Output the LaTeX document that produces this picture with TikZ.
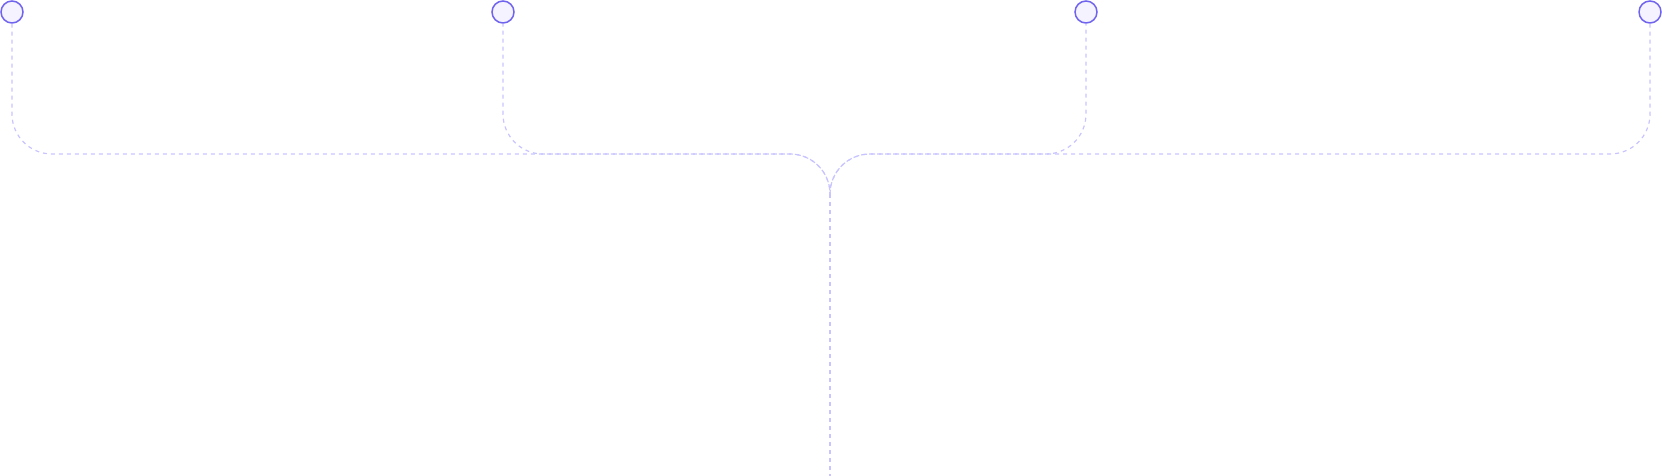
\documentclass[tikz,border=0pt]{standalone}
\usepackage{tikz}
\usetikzlibrary{positioning}
\definecolor{pinring}{RGB}{112,100,238}
\definecolor{pinfill}{RGB}{244,243,255}
\definecolor{wire}{RGB}{200,196,255}

\begin{document}
\begin{tikzpicture}[x=1pt,y=-1pt,
                    pin/.style={circle,draw=pinring,fill=pinfill,line width=1.5pt,
                                minimum size=22pt,inner sep=0pt},
                    wire/.style={draw=wire,line width=1.2pt,dash pattern=on 4pt off 4pt,
                                 rounded corners=40pt}]
  \useasboundingbox (0,0) rectangle (1662,476);

  % --- inputs along the top ------------------------------------------------
  \node[pin] (pinA) at (12,12) {};
  \node[pin] (pinB) at (503,12) {};
  \node[pin] (pinC) at (1086,12) {};
  \node[pin] (pinD) at (1650,12) {};

  % --- merge point and trunk -----------------------------------------------
  \coordinate (hub) at (830,154);
  \coordinate (drop) at (830,194);
  \coordinate (tail) at (830,476);

  % --- wires (phase shifted so shared runs stay dashed) --------------------
  \foreach \p/\ph in {pinA/0,pinB/1,pinC/2,pinD/0}
    \draw[wire,dash phase=\ph pt] (\p.south) |- (hub) -- (drop);
  \draw[wire] (drop) -- (tail);
\end{tikzpicture}
\end{document}
